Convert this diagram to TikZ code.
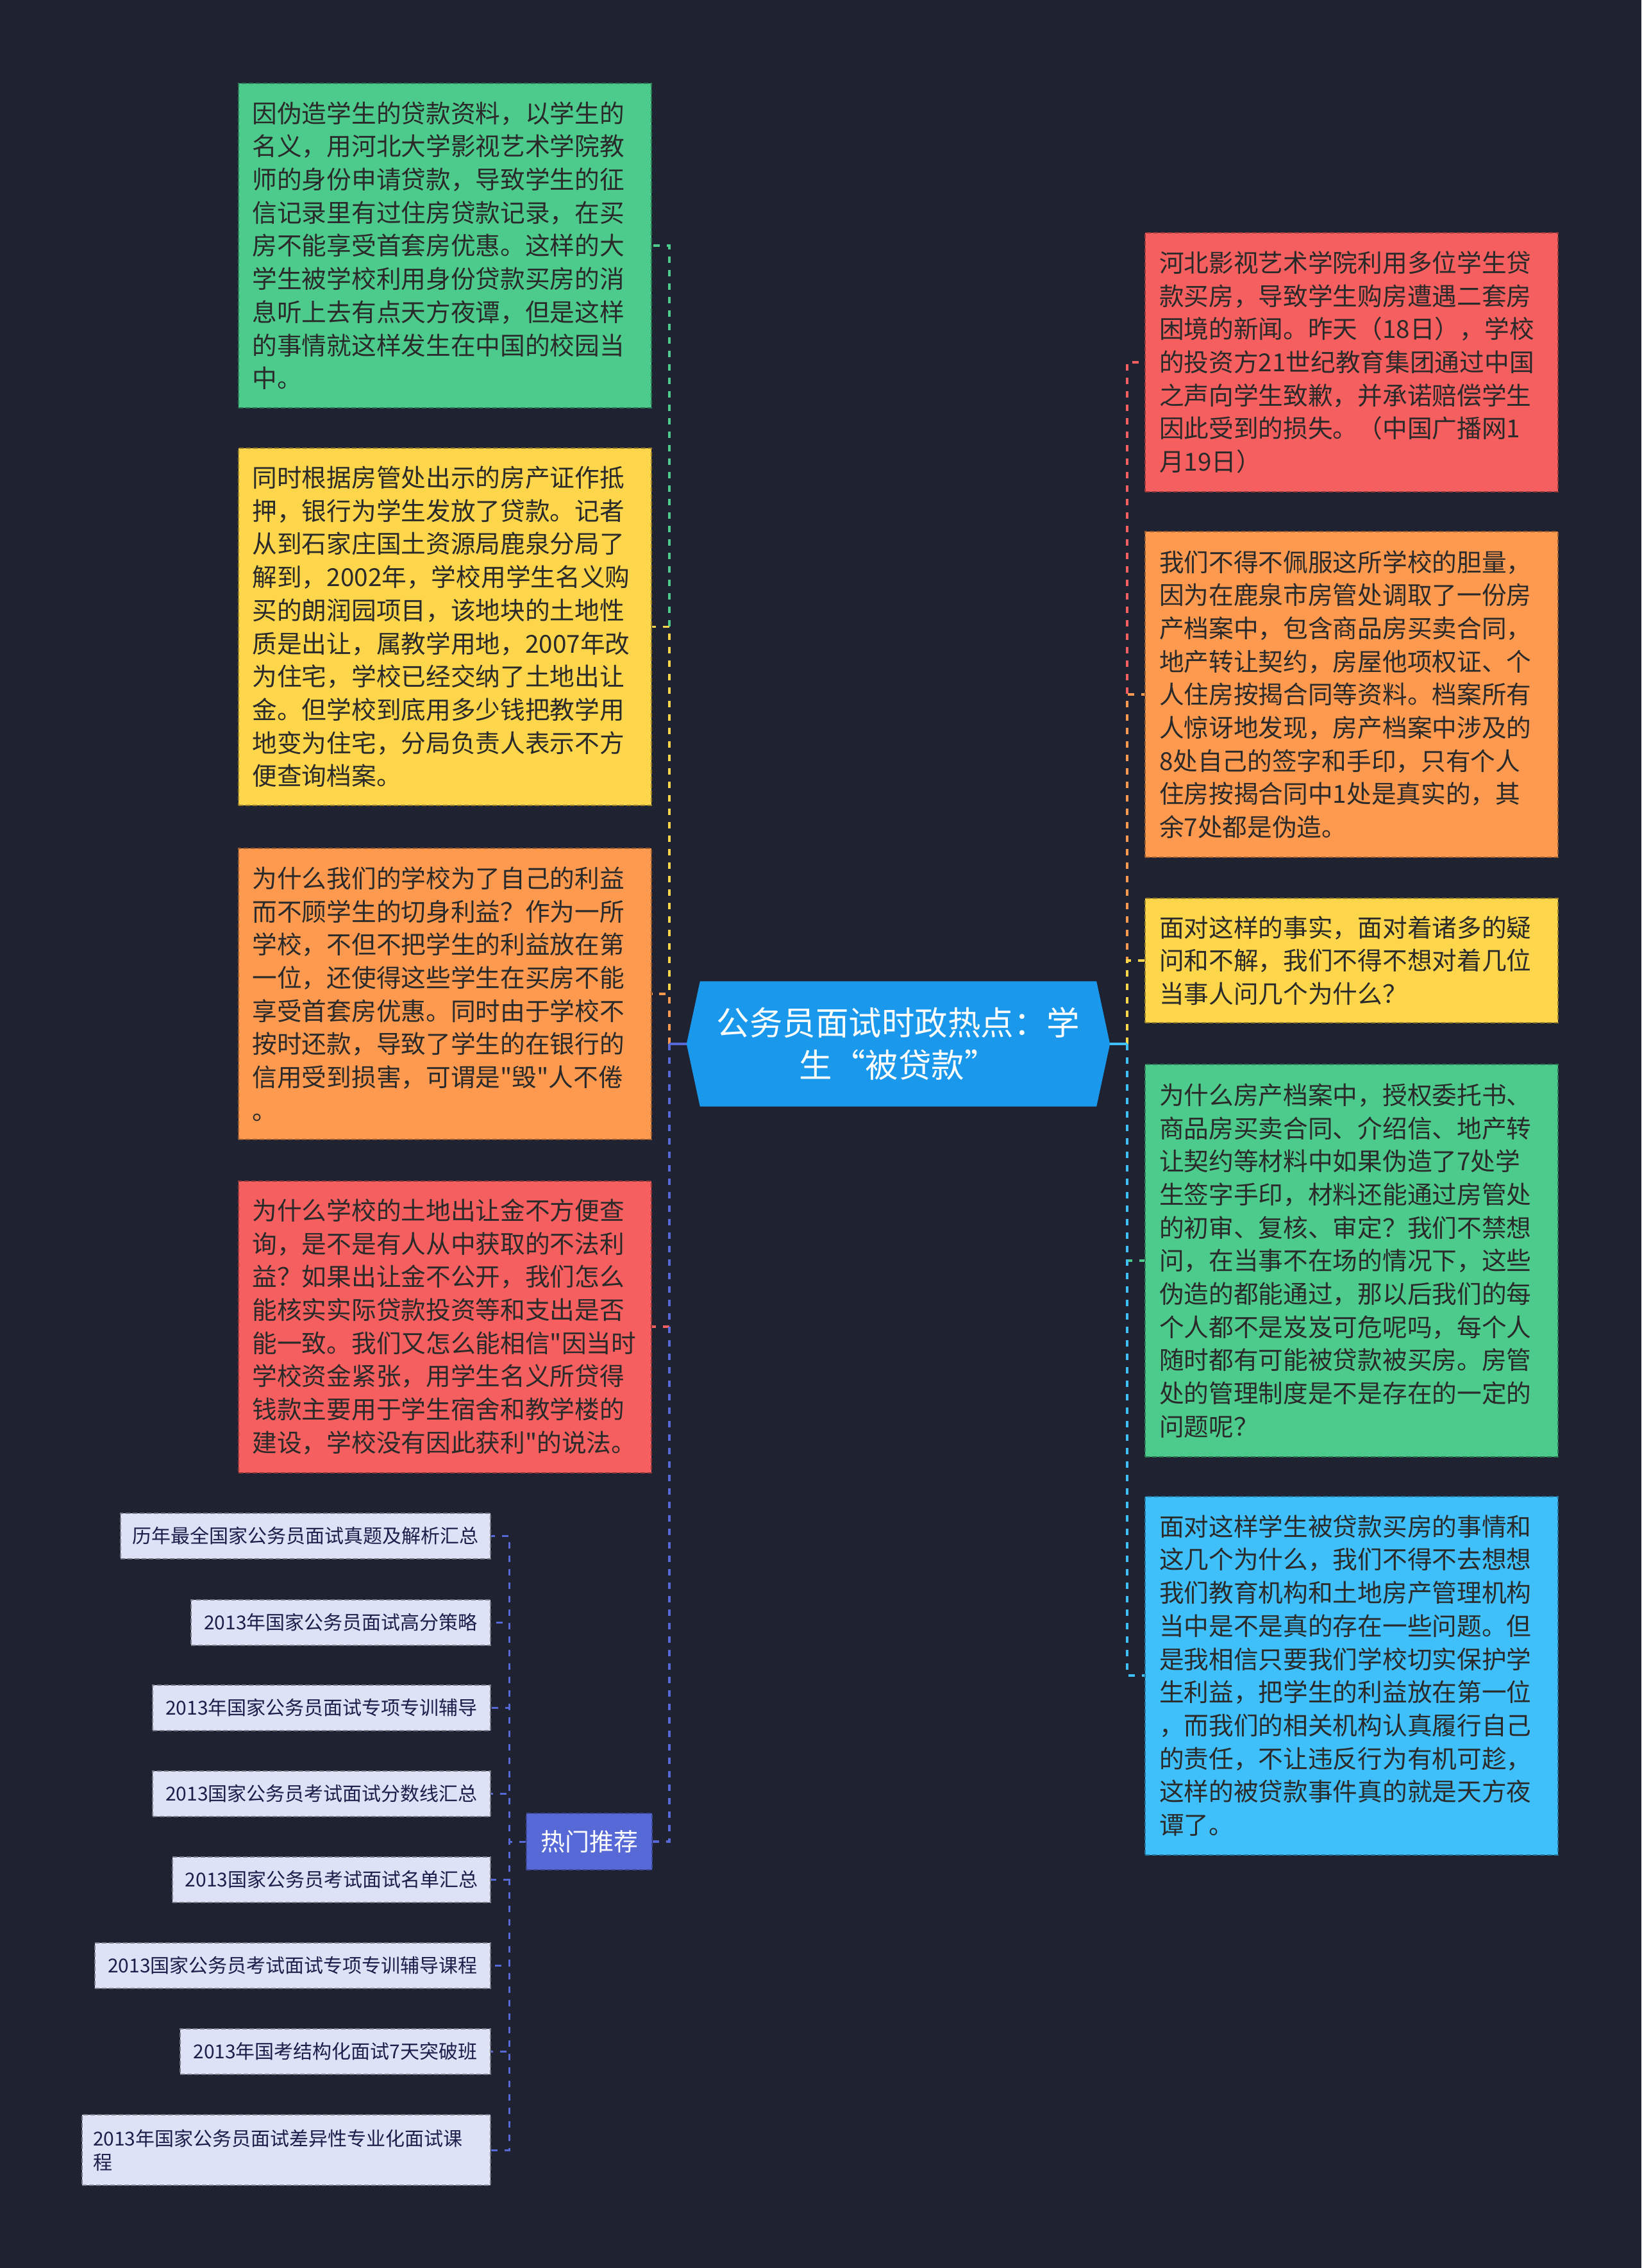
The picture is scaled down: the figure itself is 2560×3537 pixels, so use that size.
\documentclass[tikz,border=0pt]{standalone}
\usepackage{fontspec}
\setmainfont{Noto Sans CJK SC}[Ligatures=TeXOff]
\usetikzlibrary{backgrounds}
\definecolor{bgc}{HTML}{1F2230}
\definecolor{cgreen}{HTML}{4DCB8C}
\definecolor{cyellow}{HTML}{FED64B}
\definecolor{corange}{HTML}{FE9A50}
\definecolor{cred}{HTML}{F65F5F}
\definecolor{ccyan}{HTML}{40C0FB}
\definecolor{ccenter}{HTML}{1A98EB}
\definecolor{chot}{HTML}{5669D6}
\definecolor{clist}{HTML}{DDE2F6}
\definecolor{ctxt}{HTML}{2A2A2A}
\definecolor{clisttxt}{HTML}{1C1F4A}
\begin{document}
\begin{tikzpicture}[x=1pt,y=-1pt,
  box/.style={dash pattern=on 7pt off 4pt, line width=2pt, text width=600pt,
    inner xsep=22pt, inner ysep=0pt, align=left, text=ctxt,
    font=\fontsize{38.7}{51.7}\selectfont},
  listitem/.style={fill=clist, draw=clist!55!black, dash pattern=on 7pt off 4pt,
    line width=2pt, inner xsep=17pt, inner ysep=0pt, minimum height=71pt,
    anchor=east, text=clisttxt, font=\fontsize{30}{37}\selectfont},
  conn/.style={line width=3.5pt, dash pattern=on 10pt off 11pt},
  stub/.style={line width=3.5pt}]
\useasboundingbox (0,0) rectangle (2560,3537);
\begin{scope}[on background layer]
\fill[bgc] (0,0) rectangle (2560,3537);
\end{scope}

% center node
\node[minimum width=660pt, minimum height=195pt, inner sep=0pt, align=center,
  text=white, font=\fontsize{51.5}{66}\selectfont] (c) at (1401,1628)
  {公务员面试时政热点：学\\生“被贷款”};
\begin{scope}[on background layer]
\fill[ccenter] (c.west) -- ([xshift=21pt]c.north west) -- ([xshift=-21pt]c.north east)
  -- (c.east) -- ([xshift=-21pt]c.south east) -- ([xshift=21pt]c.south west) -- cycle;
\end{scope}

% left boxes
\node[box, fill=cgreen, draw=cgreen!60!black, minimum height=506pt] (l1) at (693.5,383)
{因伪造学生的贷款资料，以学生的\\
名义，用河北大学影视艺术学院教\\
师的身份申请贷款，导致学生的征\\
信记录里有过住房贷款记录，在买\\
房不能享受首套房优惠。这样的大\\
学生被学校利用身份贷款买房的消\\
息听上去有点天方夜谭，但是这样\\
的事情就这样发生在中国的校园当\\
中。};

\node[box, fill=cyellow, draw=cyellow!60!black, minimum height=557pt] (l2) at (693.5,977.5)
{同时根据房管处出示的房产证作抵\\
押，银行为学生发放了贷款。记者\\
从到石家庄国土资源局鹿泉分局了\\
解到，2002年，学校用学生名义购\\
买的朗润园项目，该地块的土地性\\
质是出让，属教学用地，2007年改\\
为住宅，学校已经交纳了土地出让\\
金。但学校到底用多少钱把教学用\\
地变为住宅，分局负责人表示不方\\
便查询档案。};

\node[box, fill=corange, draw=corange!60!black, minimum height=454pt] (l3) at (693.5,1550)
{为什么我们的学校为了自己的利益\\
而不顾学生的切身利益？作为一所\\
学校，不但不把学生的利益放在第\\
一位，还使得这些学生在买房不能\\
享受首套房优惠。同时由于学校不\\
按时还款，导致了学生的在银行的\\
信用受到损害，可谓是"毁"人不倦\\
。};

\node[box, fill=cred, draw=cred!60!black, minimum height=455pt] (l4) at (693.5,2069)
{为什么学校的土地出让金不方便查\\
询，是不是有人从中获取的不法利\\
益？如果出让金不公开，我们怎么\\
能核实实际贷款投资等和支出是否\\
能一致。我们又怎么能相信"因当时\\
学校资金紧张，用学生名义所贷得\\
钱款主要用于学生宿舍和教学楼的\\
建设，学校没有因此获利"的说法。};

\node[fill=chot, draw=chot!70!black, dash pattern=on 7pt off 4pt, line width=2pt,
  minimum width=196pt, minimum height=88pt, inner sep=0pt, text=white,
  font=\fontsize{38}{46}\selectfont] (hot) at (919,2872) {热门推荐};

% right boxes
\node[box, fill=cred, draw=cred!60!black, minimum height=404pt] (r1) at (2108,565)
{河北影视艺术学院利用多位学生贷\\
款买房，导致学生购房遭遇二套房\\
困境的新闻。昨天（18日），学校\\
的投资方21世纪教育集团通过中国\\
之声向学生致歉，并承诺赔偿学生\\
因此受到的损失。（中国广播网1\\
月19日）};

\node[box, fill=corange, draw=corange!60!black, minimum height=508pt] (r2) at (2108,1083)
{我们不得不佩服这所学校的胆量，\\
因为在鹿泉市房管处调取了一份房\\
产档案中，包含商品房买卖合同，\\
地产转让契约，房屋他项权证、个\\
人住房按揭合同等资料。档案所有\\
人惊讶地发现，房产档案中涉及的\\
8处自己的签字和手印，只有个人\\
住房按揭合同中1处是真实的，其\\
余7处都是伪造。};

\node[box, fill=cyellow, draw=cyellow!60!black, minimum height=194pt] (r3) at (2108,1498)
{面对这样的事实，面对着诸多的疑\\
问和不解，我们不得不想对着几位\\
当事人问几个为什么？};

\node[box, fill=cgreen, draw=cgreen!60!black, minimum height=612pt] (r4) at (2108,1966)
{为什么房产档案中，授权委托书、\\
商品房买卖合同、介绍信、地产转\\
让契约等材料中如果伪造了7处学\\
生签字手印，材料还能通过房管处\\
的初审、复核、审定？我们不禁想\\
问，在当事不在场的情况下，这些\\
伪造的都能通过，那以后我们的每\\
个人都不是岌岌可危呢吗，每个人\\
随时都有可能被贷款被买房。房管\\
处的管理制度是不是存在的一定的\\
问题呢？};

\node[box, fill=ccyan, draw=ccyan!60!black, minimum height=559pt] (r5) at (2108,2613)
{面对这样学生被贷款买房的事情和\\
这几个为什么，我们不得不去想想\\
我们教育机构和土地房产管理机构\\
当中是不是真的存在一些问题。但\\
是我相信只要我们学校切实保护学\\
生利益，把学生的利益放在第一位\\
，而我们的相关机构认真履行自己\\
的责任，不让违反行为有机可趁，\\
这样的被贷款事件真的就是天方夜\\
谭了。};

% list items
\node[listitem, minimum width=577pt] (h1) at (766,2395) {历年最全国家公务员面试真题及解析汇总};
\node[listitem, minimum width=467pt] (h2) at (766,2530) {2013年国家公务员面试高分策略};
\node[listitem, minimum width=527pt] (h3) at (766,2663) {2013年国家公务员面试专项专训辅导};
\node[listitem, minimum width=527pt] (h4) at (766,2797) {2013国家公务员考试面试分数线汇总};
\node[listitem, minimum width=496pt] (h5) at (766,2931) {2013国家公务员考试面试名单汇总};
\node[listitem, minimum width=617pt] (h6) at (766,3065) {2013国家公务员考试面试专项专训辅导课程};
\node[listitem, minimum width=484pt] (h7) at (766,3199) {2013年国考结构化面试7天突破班};
\node[listitem, text width=603pt, align=left, minimum height=110pt] (h8) at (766,3353)
  {2013年国家公务员面试差异性专业化面试课\\程};

% connectors
\coordinate (tl) at (1044,1628);
\coordinate (tr) at (1758,1628);
\coordinate (th) at (794,2872);
\draw[conn, cgreen] (tl) |- (l1.east);
\draw[conn, cyellow] (tl) |- (l2.east);
\draw[conn, corange] (tl) |- (l3.east);
\draw[conn, cred] (tl) |- (l4.east);
\draw[conn, chot] (tl) |- (hot.east);
\draw[stub, chot] (c.west) -- (tl);

\draw[conn, cred] (tr) |- (r1.west);
\draw[conn, corange] (tr) |- (r2.west);
\draw[conn, cyellow] (tr) |- (r3.west);
\draw[conn, cgreen] (tr) |- (r4.west);
\draw[conn, ccyan] (tr) |- (r5.west);
\draw[stub, ccyan] (c.east) -- (tr);

\foreach \n in {h1,h2,h3,h4,h5,h6,h7,h8}
  \draw[conn, chot, line width=3pt] (hot.west) -- (th) |- (\n.east);
\end{tikzpicture}
\end{document}
